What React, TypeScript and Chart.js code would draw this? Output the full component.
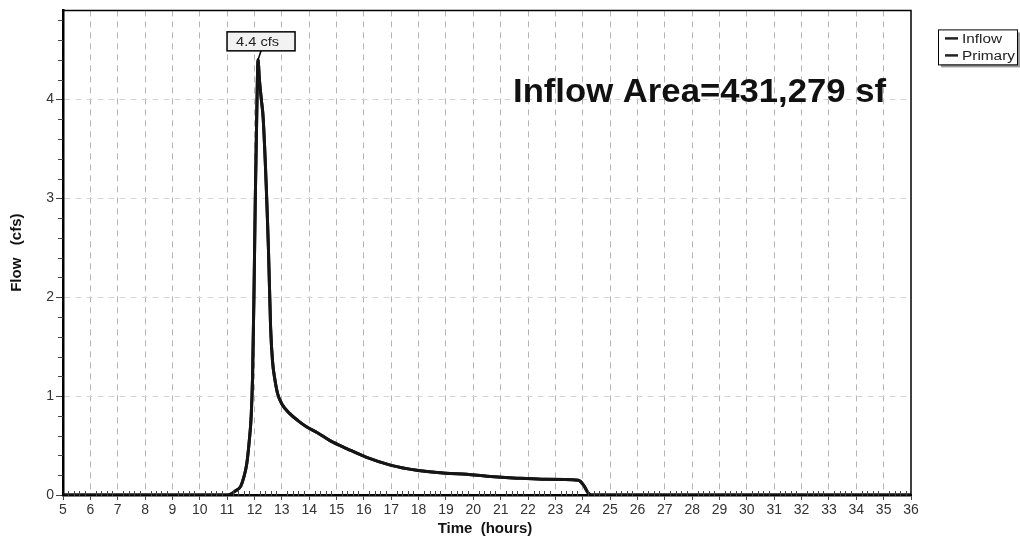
import React, { useEffect, useRef } from 'react';
import { Chart, registerables } from 'chart.js';

Chart.register(...registerables);

// ---- data ----
const timeHours = [
  5, 11.03, 11.3, 11.5, 11.6, 11.72, 11.81, 11.88, 11.93, 11.98, 12.03, 12.08, 12.13, 12.18, 12.25,
  12.32, 12.51, 12.59, 12.66, 12.75, 12.85, 13.0, 13.3, 13.6, 13.9, 14.3, 14.76, 15.37, 16.1, 17.0,
  17.93, 19.0, 19.76, 20.5, 21.59, 22.5, 23.84, 24.03, 24.2, 24.3, 36,
];
const inflowCfs = [
  0, 0, 0.04, 0.09, 0.17, 0.32, 0.55, 0.8, 1.2, 2.0, 3.0, 3.8, 4.4, 4.2, 4.0,
  3.8, 2.49, 1.69, 1.35, 1.16, 1.02, 0.92, 0.82, 0.75, 0.69, 0.63, 0.55, 0.47, 0.38, 0.3,
  0.25, 0.22, 0.21, 0.19, 0.17, 0.16, 0.15, 0.1, 0.02, 0, 0,
];
const primaryCfs = inflowCfs.slice();

const seriesNames = ['Inflow', 'Primary'];
const xMin = 5;
const xMax = 36;
const yMin = 0;
const yMax = 4.9;
const minorStep = 0.2;
const peakTime = 12.13;
const peakFlow = 4.4;
const peakLabel = '4.4 cfs';
const areaLabel = 'Inflow Area=431,279 sf';
const xTitle = 'Time  (hours)';
const yTitle = 'Flow   (cfs)';

const FONT = '"Liberation Sans", Arial, Helvetica, sans-serif';
const isInt = (v: number) => Math.abs(v - Math.round(v)) < 1e-6;

function fillTextFit(ctx: CanvasRenderingContext2D, text: string, x: number, y: number, width: number) {
  const w = ctx.measureText(text).width;
  const s = width / w;
  ctx.save();
  ctx.translate(x, y);
  ctx.scale(s, 1);
  ctx.textAlign = 'left';
  ctx.fillText(text, 0, 0);
  ctx.restore();
}

const decorPlugin = {
  id: 'decor',
  beforeDraw(chart: any) {
    const { ctx } = chart;
    ctx.save();
    ctx.fillStyle = '#ffffff';
    ctx.fillRect(0, 0, chart.width, chart.height);
    ctx.restore();
  },
  afterDraw(chart: any) {
    const { ctx, chartArea } = chart;
    const { left, right, top, bottom } = chartArea;
    const xs = chart.scales.x;
    const ys = chart.scales.y;
    ctx.save();

    // frame top & right
    ctx.strokeStyle = '#000';
    ctx.lineWidth = 1.5;
    ctx.beginPath();
    ctx.moveTo(left, top);
    ctx.lineTo(right, top);
    ctx.lineTo(right, bottom);
    ctx.stroke();

    // minor ticks
    ctx.strokeStyle = '#444';
    ctx.lineWidth = 1;
    ctx.beginPath();
    for (let v = xMin; v <= xMax + 1e-6; v += minorStep) {
      if (isInt(v)) continue;
      const px = Math.round(xs.getPixelForValue(v)) + 0.5;
      ctx.moveTo(px, bottom - 4);
      ctx.lineTo(px, bottom + 1);
    }
    for (let v = yMin; v <= yMax + 1e-6; v += minorStep) {
      if (isInt(v)) continue;
      const py = Math.round(ys.getPixelForValue(v)) + 0.5;
      ctx.moveTo(left - 5, py);
      ctx.lineTo(left, py);
    }
    ctx.stroke();

    // peak label
    const pkx = xs.getPixelForValue(peakTime);
    const pky = ys.getPixelForValue(peakFlow);
    const bw = 68;
    const bh = 19;
    const bx = pkx + 3 - bw / 2;
    const by = pky - 9 - bh;
    ctx.strokeStyle = '#000';
    ctx.lineWidth = 1.5;
    ctx.beginPath();
    ctx.moveTo(pkx + 3, by + bh);
    ctx.lineTo(pkx, pky);
    ctx.stroke();
    ctx.fillStyle = '#f2f2f2';
    ctx.fillRect(bx, by, bw, bh);
    ctx.strokeRect(bx, by, bw, bh);
    ctx.fillStyle = '#222';
    ctx.font = `13px ${FONT}`;
    ctx.textBaseline = 'middle';
    fillTextFit(ctx, peakLabel, bx + 9, by + bh / 2 + 1, 43);

    // area text
    ctx.font = `bold 34px ${FONT}`;
    ctx.fillStyle = '#111';
    ctx.textBaseline = 'alphabetic';
    fillTextFit(ctx, areaLabel, left + 450, top + 92, 373);

    // axis titles
    ctx.font = `bold 15px ${FONT}`;
    ctx.fillStyle = '#111';
    ctx.textAlign = 'center';
    ctx.textBaseline = 'middle';
    ctx.fillText(xTitle, (left + right) / 2 - 2, bottom + 34);
    ctx.save();
    ctx.translate(17, (top + bottom) / 2);
    ctx.rotate(-Math.PI / 2);
    ctx.fillText(yTitle, 0, 0);
    ctx.restore();

    // legend
    const lx = right + 27;
    const ly = top + 19;
    const lw = 79;
    const lh = 35;
    ctx.fillStyle = '#9a9a9a';
    ctx.fillRect(lx + 3, ly + 3, lw, lh);
    ctx.fillStyle = '#fff';
    ctx.fillRect(lx, ly, lw, lh);
    ctx.strokeStyle = '#000';
    ctx.lineWidth = 1;
    ctx.strokeRect(lx + 0.5, ly + 0.5, lw, lh);
    ctx.font = `12px ${FONT}`;
    ctx.textBaseline = 'middle';
    const widths = [40, 53];
    seriesNames.forEach((name, i) => {
      const yy = ly + 9 + i * 17;
      ctx.strokeStyle = '#222';
      ctx.lineWidth = 2.5;
      ctx.beginPath();
      ctx.moveTo(lx + 7, yy);
      ctx.lineTo(lx + 20, yy);
      ctx.stroke();
      ctx.fillStyle = '#222';
      fillTextFit(ctx, name, lx + 24, yy + 1, widths[i]);
    });

    ctx.restore();
  },
};

export default function App() {
  const canvasRef = useRef<HTMLCanvasElement | null>(null);

  useEffect(() => {
    const canvas = canvasRef.current;
    if (!canvas) return;
    const toPts = (ys: number[]) => timeHours.map((t, i) => ({ x: t, y: ys[i] }));
    const chart = new Chart(canvas, {
      type: 'line',
      data: {
        datasets: [
          {
            label: seriesNames[0],
            data: toPts(inflowCfs),
            borderColor: '#151515',
            borderWidth: 3,
            pointRadius: 0,
            fill: false,
          },
          {
            label: seriesNames[1],
            data: toPts(primaryCfs),
            borderColor: '#151515',
            borderWidth: 3,
            pointRadius: 0,
            fill: false,
          },
        ],
      },
      options: {
        animation: false,
        responsive: false,
        devicePixelRatio: 1,
        layout: { padding: { left: 0, right: 109, top: 7, bottom: 0 } },
        plugins: { legend: { display: false }, tooltip: { enabled: false } },
        elements: { line: { cubicInterpolationMode: 'monotone' } },
        scales: {
          x: {
            type: 'linear',
            min: xMin,
            max: xMax,
            ticks: {
              stepSize: minorStep,
              autoSkip: false,
              maxRotation: 0,
              minRotation: 0,
              padding: 2,
              color: '#333',
              font: { family: FONT, size: 14 },
              callback: (v: any) => (isInt(Number(v)) ? String(Math.round(Number(v))) : ''),
            },
            grid: {
              color: (c: any) =>
                c.tick && isInt(c.tick.value) && c.tick.value > xMin && c.tick.value < xMax
                  ? '#b4b4b4'
                  : 'rgba(0,0,0,0)',
              lineWidth: 1,
              tickColor: (c: any) => (c.tick && isInt(c.tick.value) ? '#444' : 'rgba(0,0,0,0)'),
              tickLength: 5,
            },
            border: { display: true, color: '#000', width: 2.5, dash: [6, 5] },
            afterFit: (s: any) => {
              s.height = 47;
            },
          },
          y: {
            type: 'linear',
            min: yMin,
            max: yMax,
            ticks: {
              stepSize: minorStep,
              autoSkip: false,
              padding: 2,
              color: '#333',
              font: { family: FONT, size: 14 },
              callback: (v: any) => (isInt(Number(v)) ? String(Math.round(Number(v))) : ''),
            },
            grid: {
              color: (c: any) =>
                c.tick && isInt(c.tick.value) && c.tick.value > yMin ? '#d6d6d6' : 'rgba(0,0,0,0)',
              lineWidth: 1,
              tickColor: (c: any) => (c.tick && isInt(c.tick.value) ? '#444' : 'rgba(0,0,0,0)'),
              tickLength: 7,
            },
            border: { display: true, color: '#000', width: 2.5, dash: [6, 5] },
            afterFit: (s: any) => {
              s.width = 63;
            },
          },
        },
      },
      plugins: [decorPlugin],
    });
    return () => chart.destroy();
  }, []);

  return (
    <div style={{ position: 'fixed', left: 0, top: 0, width: 1020, height: 542, background: '#fff' }}>
      <canvas ref={canvasRef} width={1020} height={542} style={{ display: 'block' }} />
    </div>
  );
}
